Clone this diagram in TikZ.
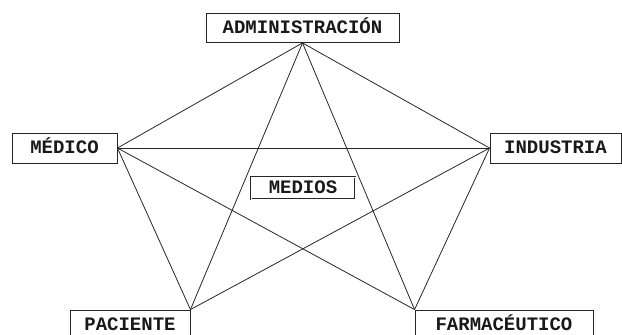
\documentclass[tikz,border=0pt]{standalone}
\usepackage{fontspec}
\setmonofont{Liberation Mono}
\begin{document}
\begin{tikzpicture}[x=1pt,y=-1pt,
  box/.style={draw=black!85, line width=0.9pt, fill=white, inner sep=0pt,
    text height=11pt, text depth=0pt,
    font=\ttfamily\bfseries\fontsize{19}{19}\selectfont, text=black!90},
  link/.style={draw=black!85, line width=0.8pt}]
\useasboundingbox (0,0) rectangle (622,335);
\clip (0,0) rectangle (622,335);
\node[box, minimum width=193pt, minimum height=29pt] (adm) at (302.5,28) {ADMINISTRACIÓN};
\node[box, minimum width=105pt, minimum height=30pt] (med) at (64.5,148) {MÉDICO};
\node[box, minimum width=131pt, minimum height=30pt] (ind) at (555.5,148) {INDUSTRIA};
\node[box, minimum width=120pt, minimum height=30pt] (pac) at (130,325) {PACIENTE};
\node[box, minimum width=178pt, minimum height=30pt] (far) at (504,325) {FARMACÉUTICO};
\draw[link] (adm.south) -- (med.east);
\draw[link] (adm.south) -- (ind.west);
\draw[link] (adm.south) -- (pac.north east);
\draw[link] (adm.south) -- (far.north west);
\draw[link] (med.east) -- (ind.west);
\draw[link] (med.east) -- (pac.north east);
\draw[link] (med.east) -- (far.north west);
\draw[link] (ind.west) -- (pac.north east);
\draw[link] (ind.west) -- (far.north west);
\node[box, double, double distance=0.9pt, line width=0.6pt, minimum width=104pt, minimum height=22pt] (mdi) at (303,188) {MEDIOS};
\end{tikzpicture}
\end{document}
